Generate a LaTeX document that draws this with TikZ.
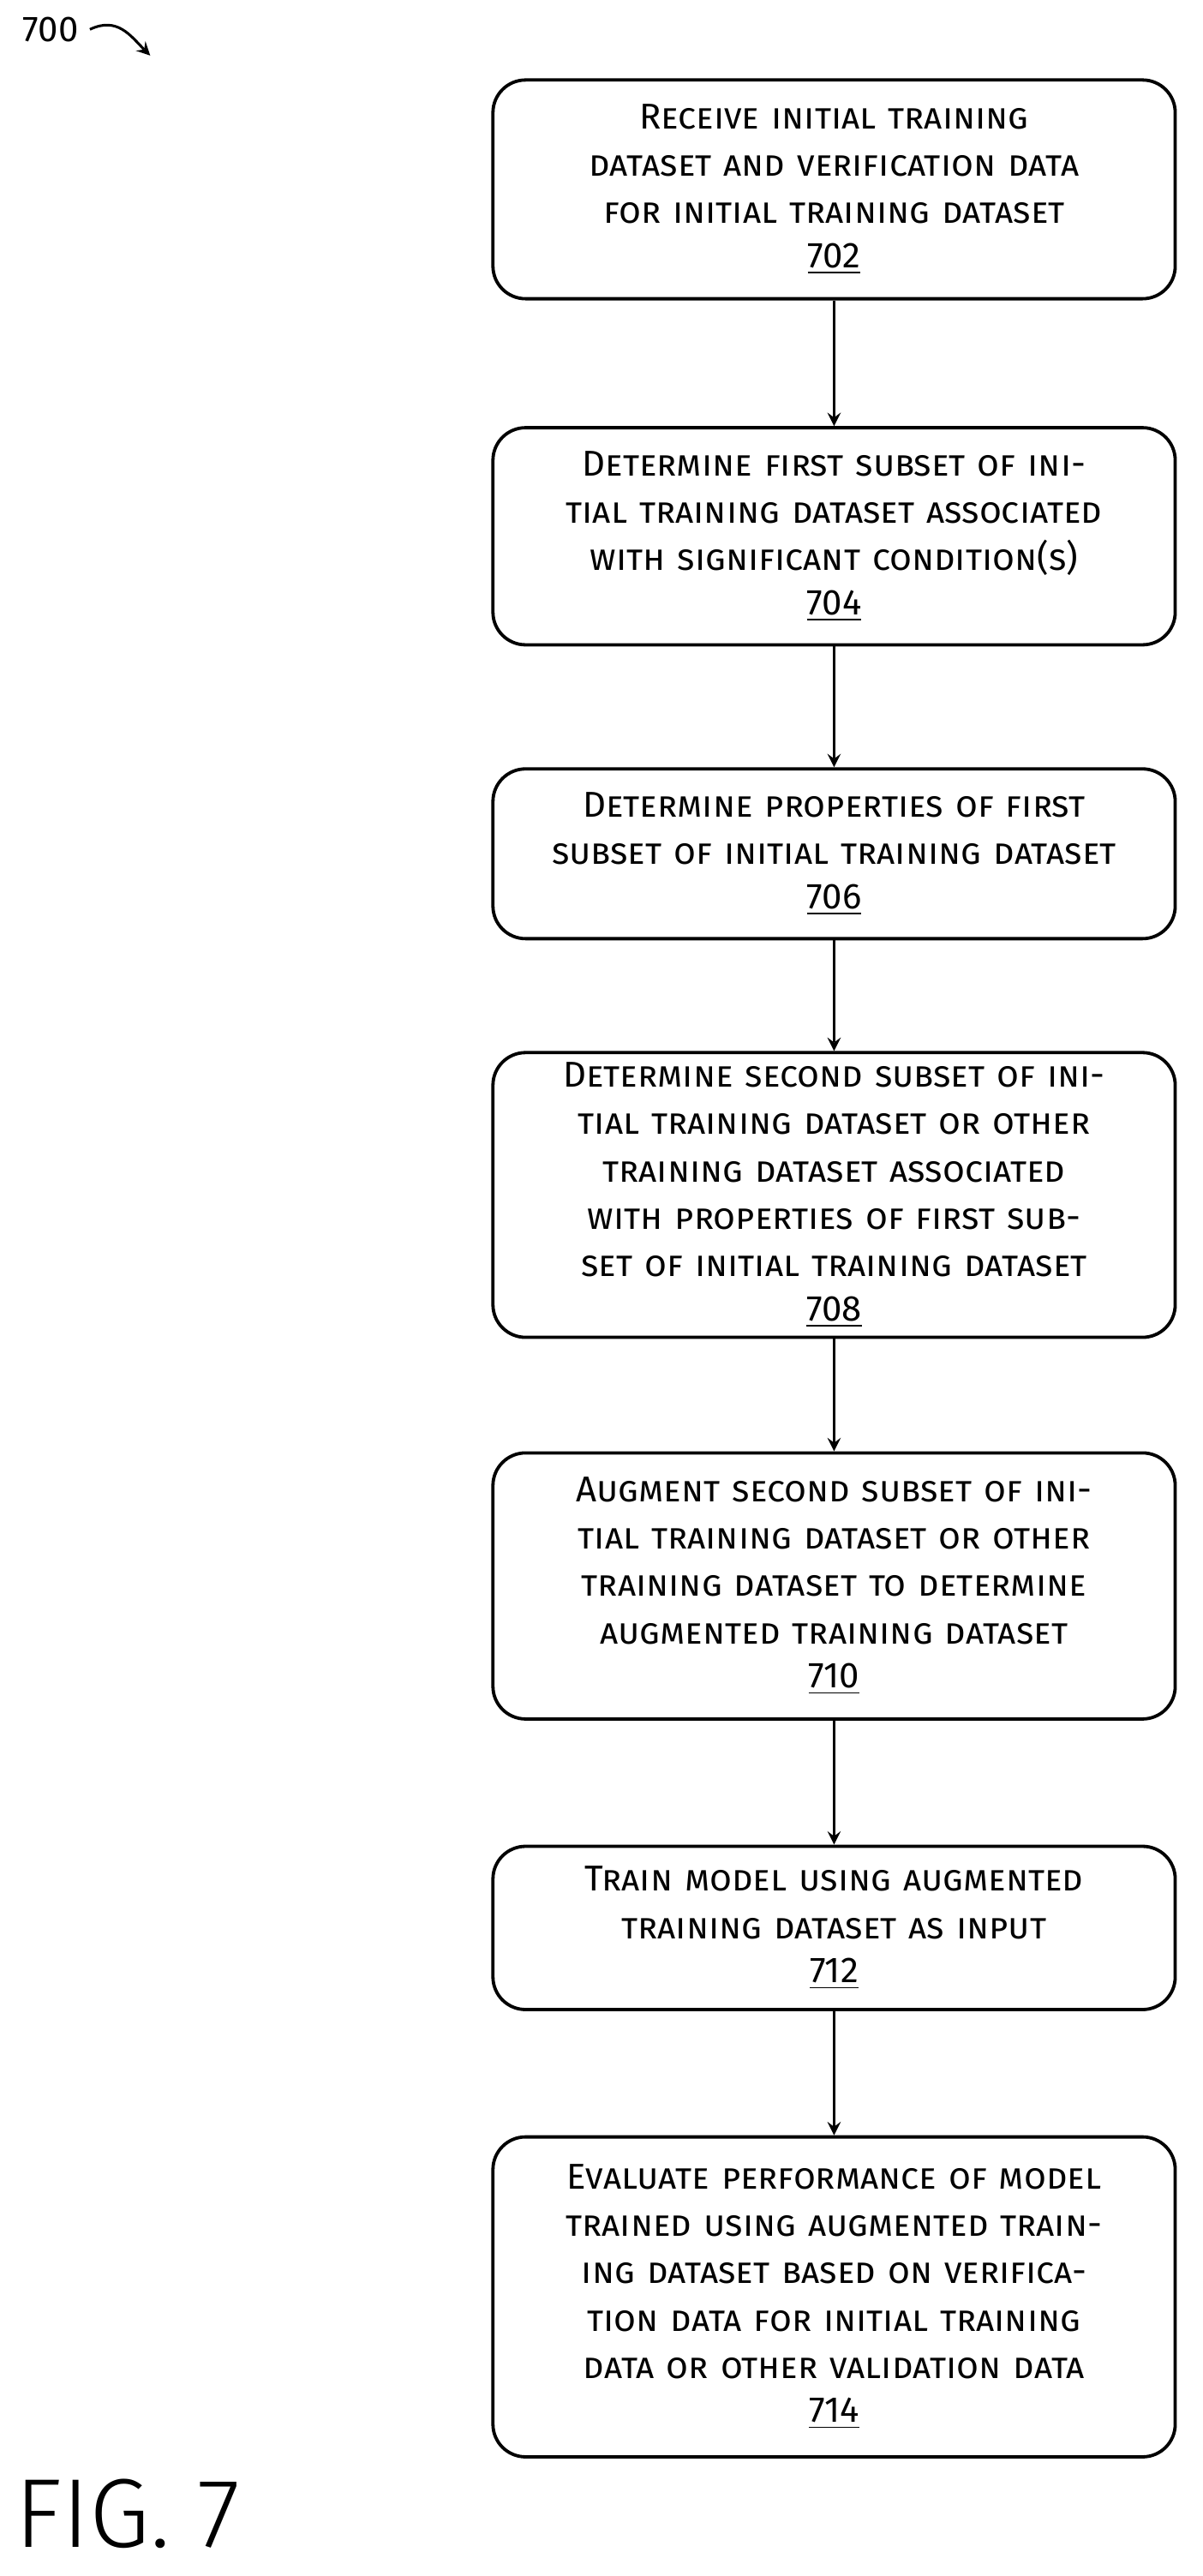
\documentclass[tikz,border=0pt]{standalone}
\usepackage{fontspec}
\setmainfont{Fira Sans}[Letters=SmallCaps]
\newfontfamily\figfont{Fira Sans Light}
\newfontfamily\numfont{Fira Sans}
\usetikzlibrary{positioning}
\tikzset{
  flowstep/.style={draw, line width=1pt, rounded corners=10pt, text width=196pt,
    align=center, minimum width=209pt, inner sep=3pt, font=\fontsize{11}{14.5}\selectfont},
  flow/.style={-stealth, line width=0.8pt}
}
\newcommand{\stepnum}[1]{\\[-1pt]{\numfont\underline{#1}}}
\begin{document}
\begin{tikzpicture}[x=0.5pt,y=-0.5pt]
\useasboundingbox (0,0) rectangle (737,1578);

\node[flowstep, minimum height=67pt] (s702) at (511,116) {Receive initial training dataset and verification data for initial training dataset\stepnum{702}};
\node[flowstep, minimum height=66.5pt] (s704) at (511,328.5) {Determine first subset of initial training dataset associated with significant condition(s)\stepnum{704}};
\node[flowstep, minimum height=52pt] (s706) at (511,523) {Determine properties of first subset of initial training dataset\stepnum{706}};
\node[flowstep, minimum height=81pt] (s708) at (511,732) {Determine second subset of initial training dataset or other training dataset associated with properties of first subset of initial training dataset\stepnum{708}};
\node[flowstep, minimum height=81.5pt] (s710) at (511,971.5) {Augment second subset of initial training dataset or other training dataset to determine augmented training dataset\stepnum{710}};
\node[flowstep, minimum height=50pt] (s712) at (511,1181) {Train model using augmented training dataset as input\stepnum{712}};
\node[flowstep, minimum height=98pt] (s714) at (511,1407) {Evaluate performance of model trained using augmented training dataset based on verification data for initial training data or other validation data\stepnum{714}};

\draw[flow] (s702) -- (s704);
\draw[flow] (s704) -- (s706);
\draw[flow] (s706) -- (s708);
\draw[flow] (s708) -- (s710);
\draw[flow] (s710) -- (s712);
\draw[flow] (s712) -- (s714);

% figure labels
\node[font=\numfont\fontsize{11}{13}\selectfont] (ref700) at (31,18) {700};
\coordinate (ref700end) at (92,34);
\draw[-stealth, line width=0.8pt] (ref700.east) .. controls (72,10) and (80,22) .. (ref700end);
\node[font=\figfont\fontsize{30}{32}\selectfont, anchor=west] (fig) at (2,1540) {FIG. 7};
\end{tikzpicture}
\end{document}
